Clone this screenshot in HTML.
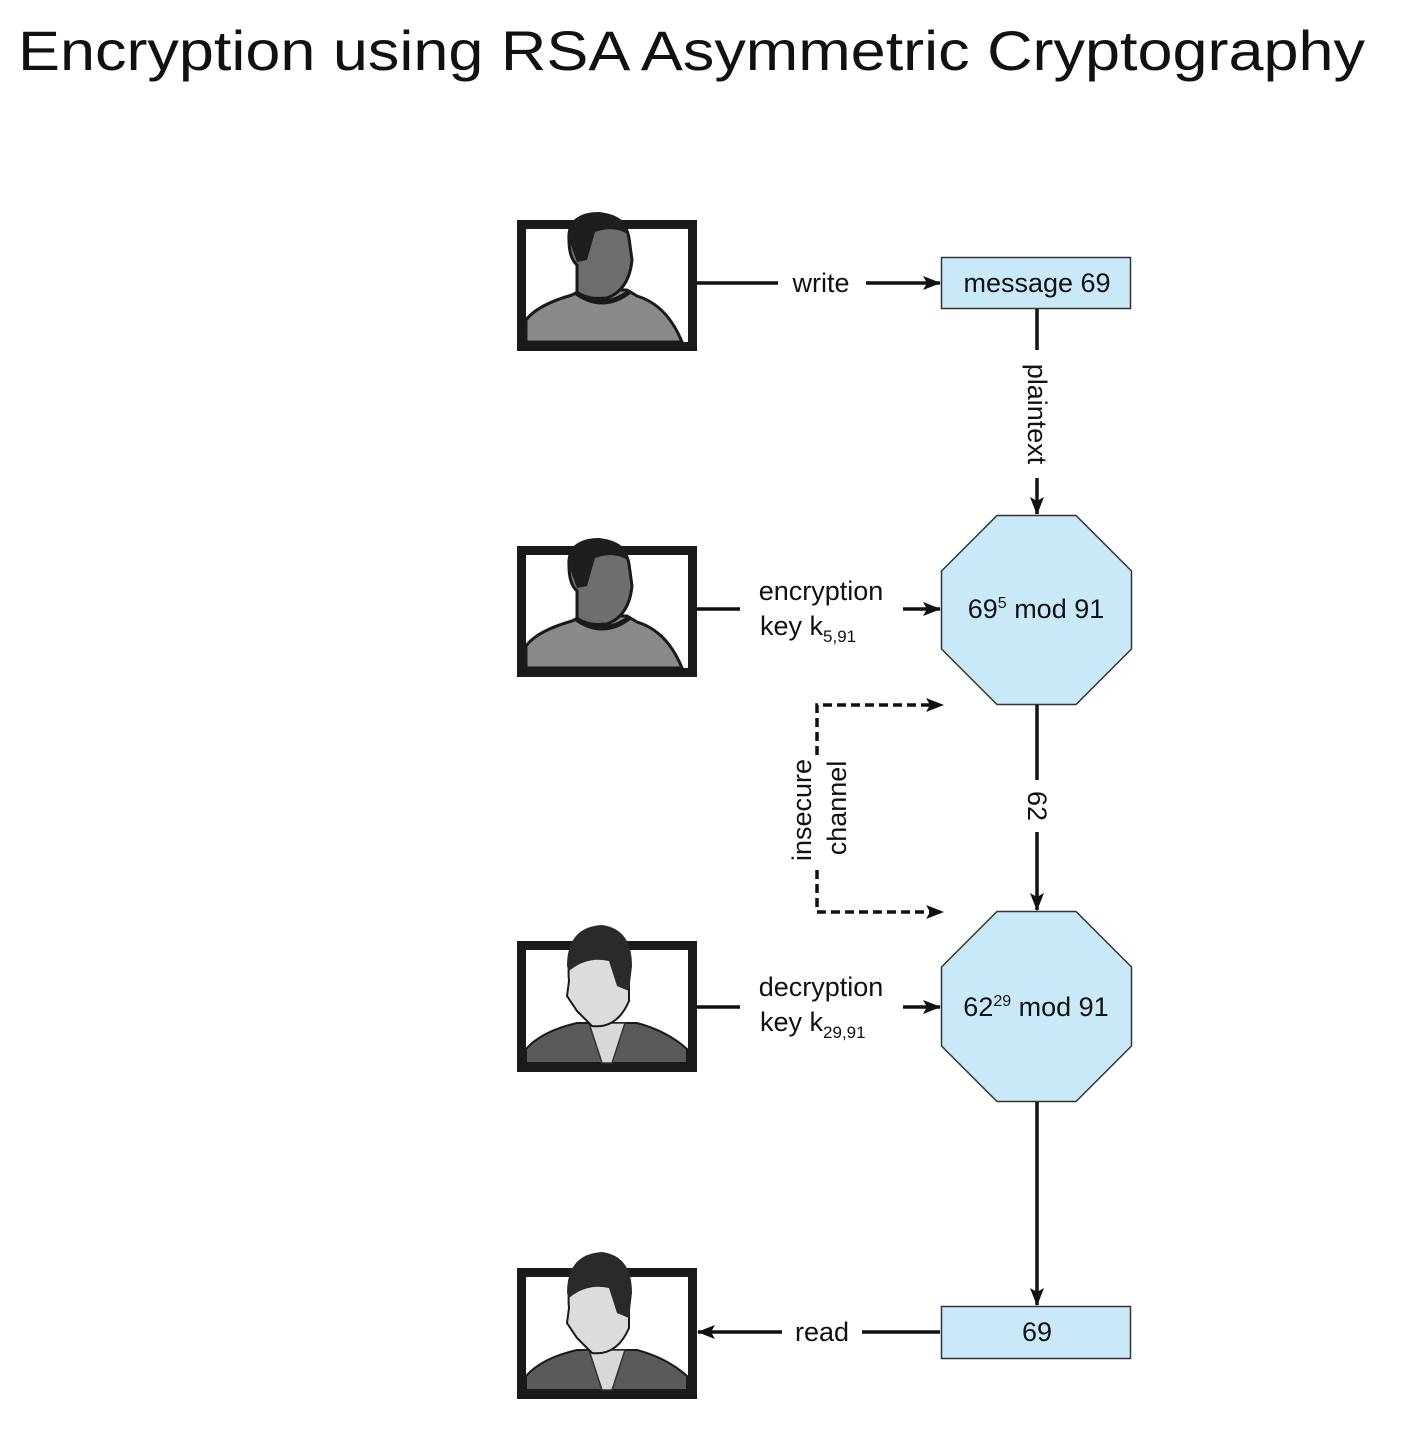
<!DOCTYPE html>
<html><head><meta charset="utf-8"><style>
html,body{margin:0;padding:0;background:#fff;}
svg{display:block;}
text{font-family:"Liberation Sans",Arial,sans-serif;fill:#111;}
</style></head><body>
<svg width="1418" height="1434" viewBox="0 0 1418 1434" xmlns="http://www.w3.org/2000/svg">
<defs>
<marker id="ahb" markerWidth="18" markerHeight="14" refX="17" refY="7" orient="auto" markerUnits="userSpaceOnUse" viewBox="0 0 18 14">
<path d="M0,0 L18,7 L0,14 L4,7 Z" fill="#111"/></marker>
<g id="casual">
<rect x="4.5" y="4.5" width="171" height="122" fill="#fff" stroke="#1a1a1a" stroke-width="9"/>
<path d="M9,122 L9,100 Q20,85 55,75 L65,70 L110,70 L120,76 Q150,85 165,122 Z" fill="#8a8a8a" stroke="#1a1a1a" stroke-width="3"/>
<path d="M58,72 Q85,92 112,72" fill="none" stroke="#1a1a1a" stroke-width="5"/>
<path d="M60,72 L60,45 Q52,38 52,20 Q50,-5 80,-6 Q108,-5 112,18 L115,40 Q112,70 90,78 Q70,80 60,72 Z" fill="#6e6e6e" stroke="#1a1a1a" stroke-width="3"/>
<path d="M52,20 Q50,-8 82,-8 Q110,-5 112,15 Q98,5 78,12 L70,40 L60,42 Z" fill="#1e1e1e"/>
</g>
<g id="suit">
<rect x="4.5" y="4.5" width="171" height="122" fill="#fff" stroke="#1a1a1a" stroke-width="9"/>
<path d="M9,122 L9,108 Q25,90 60,82 L120,82 Q150,90 170,108 L170,122 Z" fill="#5a5a5a" stroke="#1a1a1a" stroke-width="2"/>
<path d="M72,82 L85,122 L95,122 L108,82 Z" fill="#d8d8d8" stroke="#333" stroke-width="1.5"/>
<path d="M52,40 Q48,0 80,-12 Q110,-15 112,20 L112,60 Q100,88 75,85 L60,70 L50,55 Z" fill="#dcdcdc" stroke="#1a1a1a" stroke-width="2"/>
<path d="M50,25 Q50,-14 85,-16 Q115,-12 115,25 L112,50 L100,45 L92,20 Q70,15 52,30 Z" fill="#2a2a2a"/>
</g>
</defs>

<text x="18" y="70" font-size="56" textLength="1347" lengthAdjust="spacingAndGlyphs">Encryption using RSA Asymmetric Cryptography</text>

<g fill="#c9e9f9" stroke="#333" stroke-width="1.5">
<rect x="941.5" y="257.5" width="189" height="51"/>
<polygon points="997,515.5 1076,515.5 1131.5,571 1131.5,649 1076,704.5 997,704.5 941.5,649 941.5,571"/>
<polygon points="997,911.5 1076,911.5 1131.5,967 1131.5,1046 1076,1101.5 997,1101.5 941.5,1046 941.5,967"/>
<rect x="941.5" y="1306.5" width="189" height="52"/>
</g>

<use href="#casual" x="517" y="220"/>
<use href="#casual" x="517" y="546"/>
<use href="#suit" x="517" y="941"/>
<use href="#suit" x="517" y="1268"/>

<g stroke="#111" stroke-width="3.5" fill="none">
<line x1="697" y1="283" x2="778" y2="283"/>
<line x1="866" y1="283" x2="940" y2="283" marker-end="url(#ahb)"/>
<line x1="1037" y1="309" x2="1037" y2="350"/>
<line x1="1037" y1="478" x2="1037" y2="514" marker-end="url(#ahb)"/>
<line x1="697" y1="609" x2="740" y2="609"/>
<line x1="903" y1="609" x2="940" y2="609" marker-end="url(#ahb)"/>
<line x1="1037" y1="705" x2="1037" y2="780"/>
<line x1="1037" y1="832" x2="1037" y2="910" marker-end="url(#ahb)"/>
<line x1="697" y1="1007" x2="740" y2="1007"/>
<line x1="903" y1="1007" x2="940" y2="1007" marker-end="url(#ahb)"/>
<line x1="1037" y1="1102" x2="1037" y2="1305" marker-end="url(#ahb)"/>
<line x1="940" y1="1332" x2="862" y2="1332"/>
<line x1="782" y1="1332" x2="698" y2="1332" marker-end="url(#ahb)"/>
</g>
<g stroke="#111" stroke-width="3.5" fill="none" stroke-dasharray="9,5">
<polyline points="930,705 817,705 817,755"/>
<polyline points="817,870 817,912 930,912"/>
</g>
<path d="M926,698 L944,705 L926,712 L930,705 Z" fill="#111"/>
<path d="M926,905 L944,912 L926,919 L930,912 Z" fill="#111"/>

<g font-size="27">
<text x="821" y="292" text-anchor="middle">write</text>
<text x="1037" y="292" text-anchor="middle">message 69</text>
<text x="821" y="600" text-anchor="middle">encryption</text>
<text x="760" y="635">key k<tspan font-size="17" dy="7">5,91</tspan></text>
<text x="1036" y="618" text-anchor="middle">69<tspan font-size="16" dy="-10">5</tspan><tspan dy="10"> mod 91</tspan></text>
<text x="821" y="996" text-anchor="middle">decryption</text>
<text x="760" y="1031">key k<tspan font-size="17" dy="7">29,91</tspan></text>
<text x="1036" y="1016" text-anchor="middle">62<tspan font-size="16" dy="-10">29</tspan><tspan dy="10"> mod 91</tspan></text>
<text x="822" y="1341" text-anchor="middle">read</text>
<text x="1037" y="1341" text-anchor="middle">69</text>
<text transform="translate(1028,414) rotate(90)" text-anchor="middle">plaintext</text>
<text transform="translate(1028,806) rotate(90)" text-anchor="middle">62</text>
<text transform="translate(811,810) rotate(-90)" text-anchor="middle">insecure</text>
<text transform="translate(846,808) rotate(-90)" text-anchor="middle">channel</text>
</g>
</svg>
</body></html>
